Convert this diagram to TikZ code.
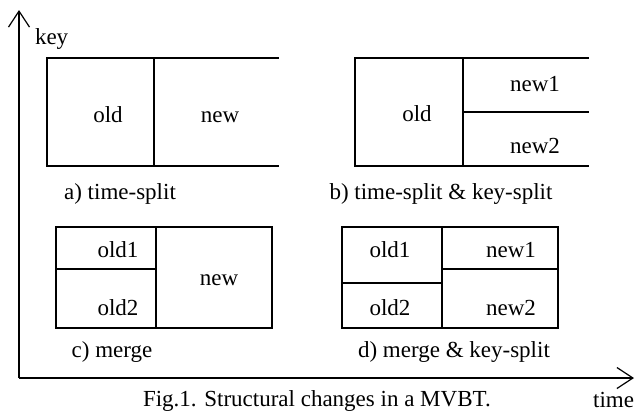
\documentclass[tikz,border=0pt]{standalone}
\usepackage{fontspec}
\setmainfont{Liberation Serif}
\usetikzlibrary{arrows.meta}
\begin{document}
\begin{tikzpicture}[x=1pt,y=-1pt,
  every node/.style={inner sep=0pt,outer sep=0pt,font=\fontsize{23}{27}\selectfont},
  lbl/.style={anchor=base},
  edge/.style={line width=1.2pt,line cap=rect},
  axis/.style={line width=1.2pt,-{Straight Barb[length=16pt,width=21pt,line width=1.2pt]}}]
\useasboundingbox (0,0) rectangle (636,413);
% axes
\coordinate (O) at (19,378);
\coordinate (Ytip) at (19,10);
\coordinate (Xtip) at (634,378);
\draw[axis] (O) -- (Ytip);
\draw[axis] (O) -- (Xtip);
\node[anchor=base west] (key) at (35,44) {key};
\node[anchor=base east] (time) at (634,407) {time};
% a) time-split
\draw[edge] (278,58) -- (47,58) -- (47,166) -- (278,166);
\draw[edge] (154,58) -- (154,166);
\node[lbl] (aold) at (108,122) {old};
\node[lbl] (anew) at (220,122) {new};
\node[lbl] (alab) at (120,199) {a) time-split};
% b) time-split & key-split
\draw[edge] (588,58) -- (355,58) -- (355,166) -- (588,166);
\draw[edge] (463,58) -- (463,166);
\draw[edge] (463,112) -- (588,112);
\node[lbl] (bold) at (417,121) {old};
\node[lbl] (bnew1) at (535,91) {new1};
\node[lbl] (bnew2) at (535,153) {new2};
\node[lbl] (blab) at (441,199) {b) time-split \& key-split};
% c) merge
\draw[edge] (56,227) rectangle (272,328);
\draw[edge] (156,227) -- (156,328);
\draw[edge] (56,269) -- (156,269);
\node[lbl] (cold1) at (118,257) {old1};
\node[lbl] (cold2) at (118,315) {old2};
\node[lbl] (cnew) at (219,285) {new};
\node[lbl] (clab) at (112,357) {c) merge};
% d) merge & key-split
\draw[edge] (342,227) rectangle (558,328);
\draw[edge] (442,227) -- (442,328);
\draw[edge] (342,283) -- (442,283);
\draw[edge] (442,269) -- (558,269);
\node[lbl] (dold1) at (390,257) {old1};
\node[lbl] (dold2) at (390,315) {old2};
\node[lbl] (dnew1) at (511,257) {new1};
\node[lbl] (dnew2) at (511,315) {new2};
\node[lbl] (dlab) at (454,357) {d) merge \& key-split};
% caption
\node[anchor=base west] (cap) at (143,406) {Fig.1. Structural changes in a MVBT.};
\end{tikzpicture}
\end{document}
